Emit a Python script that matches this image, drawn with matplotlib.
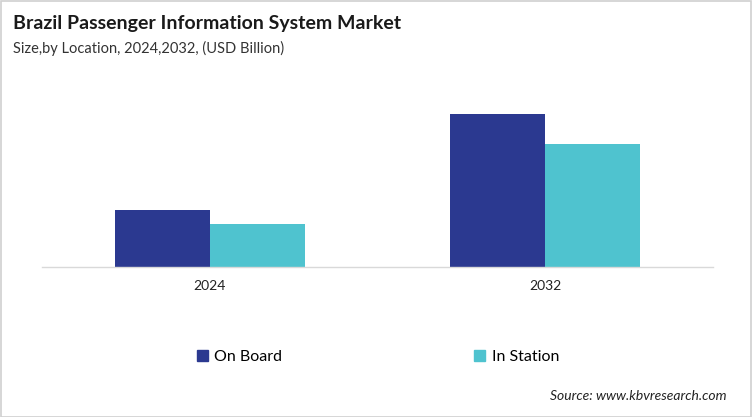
import numpy as np
import matplotlib.pyplot as plt
from matplotlib.patches import Rectangle, Patch

plt.rcParams['font.family'] = ['Lato', 'DejaVu Sans']

years = ['2024', '2032']
on_board = [0.57, 1.53]
in_station = [0.43, 1.23]
colors = ['#2b3990', '#4fc3cf']

fig = plt.figure(figsize=(7.52, 4.17), dpi=100)
ax = fig.add_axes([42 / 752, 150 / 417, 671 / 752, 177 / 417])

x = np.arange(len(years))
w = 0.283
ax.bar(x - w / 2, on_board, w, color=colors[0])
ax.bar(x + w / 2, in_station, w, color=colors[1])

ax.set_xlim(-0.5, 1.5)
ax.set_ylim(0, 1.77)
ax.set_yticks([])
ax.set_xticks(x)
ax.set_xticklabels(years, fontsize=10, color='#222222')
ax.tick_params(axis='x', length=0, pad=9)
for s in ['top', 'left', 'right']:
    ax.spines[s].set_visible(False)
ax.spines['bottom'].set_color('#d9d9d9')
ax.spines['bottom'].set_linewidth(1)

fig.text(13 / 752, 1 - 24 / 417, 'Brazil Passenger Information System Market',
         fontsize=14, fontweight='bold', color='#1a1a1a', va='center')
fig.text(13 / 752, 1 - 48 / 417, 'Size,by Location, 2024,2032, (USD Billion)',
         fontsize=10.5, color='#333333', va='center')

handles = [Patch(color=colors[0], label='On Board'), Patch(color=colors[1], label='In Station')]
fig.legend(handles=handles, loc='center', bbox_to_anchor=(378 / 752, 1 - 357 / 417), ncol=2,
           frameon=False, fontsize=11.5, handlelength=0.7, handleheight=0.7,
           handletextpad=0.4, columnspacing=12.0)

fig.text(727 / 752, 1 - 396 / 417, 'Source: www.kbvresearch.com', fontsize=10,
         style='italic', color='#222222', ha='right', va='center')

fig.patches.append(Rectangle((0.001, 0.001), 0.998, 0.997, transform=fig.transFigure,
                             fill=False, edgecolor='#d0d0d0', linewidth=1.2))

fig.savefig('out.png', dpi=100)
